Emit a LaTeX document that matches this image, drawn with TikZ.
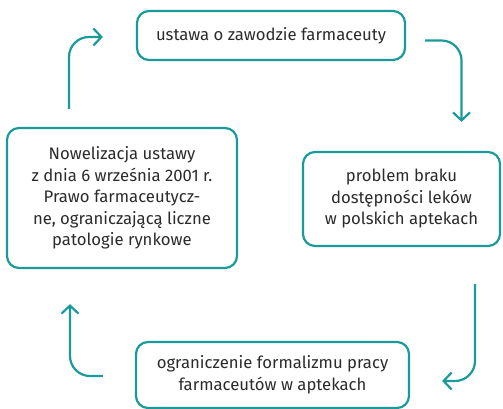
\documentclass[tikz,border=0pt]{standalone}
\usepackage{fontspec}
\setmainfont{Fira Sans}
\usepackage{xcolor}
\usetikzlibrary{arrows.meta}
\definecolor{morski}{HTML}{1B9A9A}
\definecolor{tekst}{HTML}{2B2B2B}

\begin{document}
\begin{tikzpicture}[x=1pt, y=1pt,
		pole/.style={draw=morski, line width=2.2pt, rounded corners=12pt, align=center,
			text=tekst, font=\fontsize{16.7}{21.5}\selectfont, inner sep=0pt},
		strzalka/.style={draw=morski, line width=2.2pt, rounded corners=20pt,
			-{Straight Barb[length=8pt, width=17pt, line width=2.2pt]}}]
			% Bounding box
			\useasboundingbox (0,0) rectangle (503,409);
			
			% Boxes
			\node[pole, minimum width=268pt, minimum height=49pt] (ustawa) at (271,373.5)
				{ustawa o zawodzie farmaceuty};
			\node[pole, minimum width=197pt, minimum height=94pt] (problem) at (401.5,210)
				{problem braku\\dostępności leków\\w polskich aptekach};
			\node[pole, minimum width=273pt, minimum height=66pt] (formalizm) at (272.5,34)
				{ograniczenie formalizmu pracy\\farmaceutów w aptekach};
			\node[pole, minimum width=230pt, minimum height=140pt] (nowela) at (122,211)
				{Nowelizacja ustawy\\z dnia 6 września 2001 r.\\Prawo farmaceutycz-\\ne, ograniczającą liczne\\patologie rynkowe};
			
			% Arrows
			\draw[strzalka] ([xshift=19pt, yshift=-5pt]ustawa.east) -| ([xshift=60pt, yshift=29pt]problem.north);
			\draw[strzalka] ([xshift=73.5pt, yshift=-37pt]problem.south) |- ([xshift=32pt, yshift=-6pt]formalizm.east);
			\draw[strzalka] ([xshift=-32pt, yshift=-1pt]formalizm.west) -| ([xshift=-52pt, yshift=-35pt]nowela.south);
			\draw[strzalka] ([xshift=-53pt, yshift=18pt]nowela.north) |- ([xshift=-33pt, yshift=-1.5pt]ustawa.west);
			
		\end{tikzpicture}
\end{document}
